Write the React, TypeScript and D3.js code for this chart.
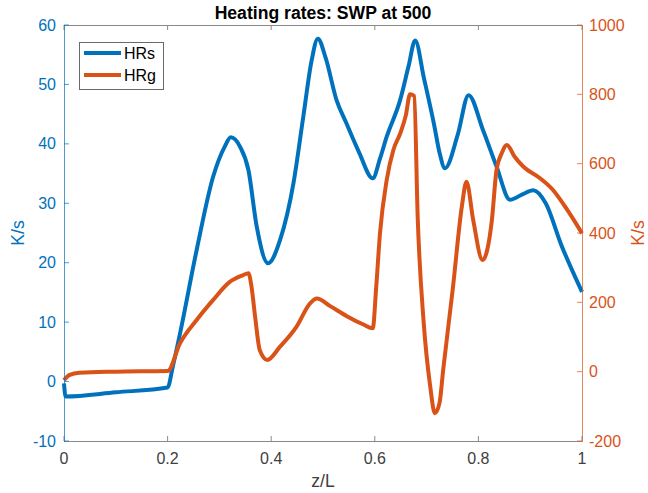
import React from "react";
import * as d3 from "d3";

// Position along the channel (z/L) and heating rates for each series
const hrsZ = [0, 0.003, 0.1, 0.2, 0.21, 0.224, 0.256, 0.288, 0.31, 0.322, 0.34, 0.356, 0.372, 0.394, 0.417, 0.443, 0.462, 0.478, 0.49, 0.505, 0.526, 0.545, 0.57, 0.596, 0.61, 0.623, 0.649, 0.665, 0.678, 0.695, 0.715, 0.725, 0.7355, 0.76, 0.781, 0.809, 0.835, 0.861, 0.885, 0.906, 0.93, 0.96, 1];
const hrsVal = [-0.3, -2.5, -1.8, -1.0, 2.5, 8.1, 22.1, 34.5, 39.5, 41.1, 39.5, 35.6, 26.1, 19.9, 23.8, 33.4, 44.6, 54, 57.7, 54.5, 47.4, 43.5, 38.5, 34.2, 37.5, 41.2, 47.4, 53, 57.4, 51, 43, 38.5, 35.9, 41.5, 48.2, 42.3, 36.2, 30.6, 31.5, 32.2, 30, 23, 15.1];

const hrgZ = [0, 0.01, 0.03, 0.1, 0.2, 0.224, 0.256, 0.288, 0.32, 0.345, 0.356, 0.362, 0.369, 0.378, 0.3925, 0.417, 0.449, 0.475, 0.488, 0.514, 0.546, 0.578, 0.596, 0.603, 0.61, 0.623, 0.636, 0.649, 0.66, 0.668, 0.676, 0.683, 0.694, 0.707, 0.716, 0.725, 0.732, 0.751, 0.768, 0.777, 0.79, 0.808, 0.826, 0.835, 0.845, 0.855, 0.87, 0.887, 0.919, 0.944, 0.97, 1];
const hrgVal = [-25, -10, -3, 0, 2, 82, 149, 207, 259, 278, 284, 245, 158, 62, 34, 72, 130, 197, 211, 189, 160, 136, 125, 250, 399, 553, 640, 687, 740, 800, 795, 437, 149, -43, -120, -90, 5, 245, 476, 548, 437, 322, 437, 582, 630, 654, 620, 591, 558, 524, 470, 399];

const xTicks = [0, 0.2, 0.4, 0.6, 0.8, 1];
const leftTicks = [-10, 0, 10, 20, 30, 40, 50, 60];
const rightTicks = [-200, 0, 200, 400, 600, 800, 1000];

const seriesNames = ["HRs", "HRg"];

const W = 648;
const H = 493;
const M = { left: 64, right: 582, top: 25, bottom: 441 };
const BLUE = "#0072BD";
const ORANGE = "#D95319";
const FONT = "'Liberation Sans', Arial, Helvetica, sans-serif";

export default function App() {
  const x = d3.scaleLinear().domain([0, 1]).range([M.left, M.right]);
  const yL = d3.scaleLinear().domain([-10, 60]).range([M.bottom, M.top]);
  const yR = d3.scaleLinear().domain([-200, 1000]).range([M.bottom, M.top]);

  const lineL = d3
    .line<number>()
    .x((_, i) => x(hrsZ[i]))
    .y((d) => yL(d))
    .curve(d3.curveMonotoneX);
  const lineR = d3
    .line<number>()
    .x((_, i) => x(hrgZ[i]))
    .y((d) => yR(d))
    .curve(d3.curveMonotoneX);

  const tickLen = 5;

  return (
    <svg
      width={W}
      height={H}
      style={{ position: "absolute", left: 0, top: 0, background: "#fff" }}
      fontFamily={FONT}
    >
      <rect x={0} y={0} width={W} height={H} fill="#fff" />

      {/* curves */}
      <path d={lineL(hrsVal) || ""} fill="none" stroke={BLUE} strokeWidth={4} strokeLinejoin="round" />
      <path d={lineR(hrgVal) || ""} fill="none" stroke={ORANGE} strokeWidth={4} strokeLinejoin="round" />

      {/* box top / bottom */}
      <line x1={M.left} x2={M.right} y1={M.top + 0.5} y2={M.top + 0.5} stroke="#8a8a8a" strokeWidth={1} />
      <line x1={M.left} x2={M.right} y1={M.bottom + 0.5} y2={M.bottom + 0.5} stroke="#8a8a8a" strokeWidth={1} />

      {/* x ticks */}
      {xTicks.map((t) => (
        <g key={"xt" + t}>
          <line x1={x(t)} x2={x(t)} y1={M.bottom} y2={M.bottom - tickLen} stroke="#8a8a8a" />
          <line x1={x(t)} x2={x(t)} y1={M.top} y2={M.top + tickLen} stroke="#8a8a8a" />
          <text x={x(t)} y={M.bottom + 23} textAnchor="middle" fontSize={16} fill="#404040">
            {String(t)}
          </text>
        </g>
      ))}

      {/* left axis */}
      <line x1={M.left + 0.5} x2={M.left + 0.5} y1={M.top} y2={M.bottom + 1} stroke={BLUE} strokeOpacity={0.7} />
      {leftTicks.map((t) => (
        <g key={"yl" + t}>
          <line x1={M.left} x2={M.left + tickLen} y1={yL(t)} y2={yL(t)} stroke={BLUE} strokeOpacity={0.7} />
          <text x={M.left - 8} y={yL(t) + 5.5} textAnchor="end" fontSize={16} fill={BLUE}>
            {String(t)}
          </text>
        </g>
      ))}

      {/* right axis */}
      <line x1={M.right + 0.5} x2={M.right + 0.5} y1={M.top} y2={M.bottom + 1} stroke={ORANGE} strokeOpacity={0.7} />
      {rightTicks.map((t) => (
        <g key={"yr" + t}>
          <line x1={M.right - tickLen} x2={M.right} y1={yR(t)} y2={yR(t)} stroke={ORANGE} strokeOpacity={0.7} />
          <text x={M.right + 7} y={yR(t) + 5.5} textAnchor="start" fontSize={16} fill={ORANGE}>
            {String(t)}
          </text>
        </g>
      ))}

      {/* labels */}
      <text x={(M.left + M.right) / 2} y={19} textAnchor="middle" fontSize={17.6} fontWeight="bold" fill="#000">
        Heating rates: SWP at 500
      </text>
      <text x={(M.left + M.right) / 2} y={487} textAnchor="middle" fontSize={17.6} fill="#404040">
        z/L
      </text>
      <text
        transform={`translate(24, ${(M.top + M.bottom) / 2}) rotate(-90)`}
        textAnchor="middle"
        fontSize={17.6}
        fill={BLUE}
      >
        K/s
      </text>
      <text
        transform={`translate(644, ${(M.top + M.bottom) / 2}) rotate(-90)`}
        textAnchor="middle"
        fontSize={17.6}
        fill={ORANGE}
      >
        K/s
      </text>

      {/* legend */}
      <g>
        <rect x={79.5} y={42.5} width={84} height={47} fill="#fff" stroke="#6a6a6a" strokeWidth={1} />
        {seriesNames.map((name, i) => (
          <g key={name}>
            <line x1={84} x2={121} y1={53 + i * 22} y2={53 + i * 22} stroke={i === 0 ? BLUE : ORANGE} strokeWidth={4} />
            <text x={124} y={59 + i * 22} fontSize={16} fill="#000">
              {name}
            </text>
          </g>
        ))}
      </g>
    </svg>
  );
}
